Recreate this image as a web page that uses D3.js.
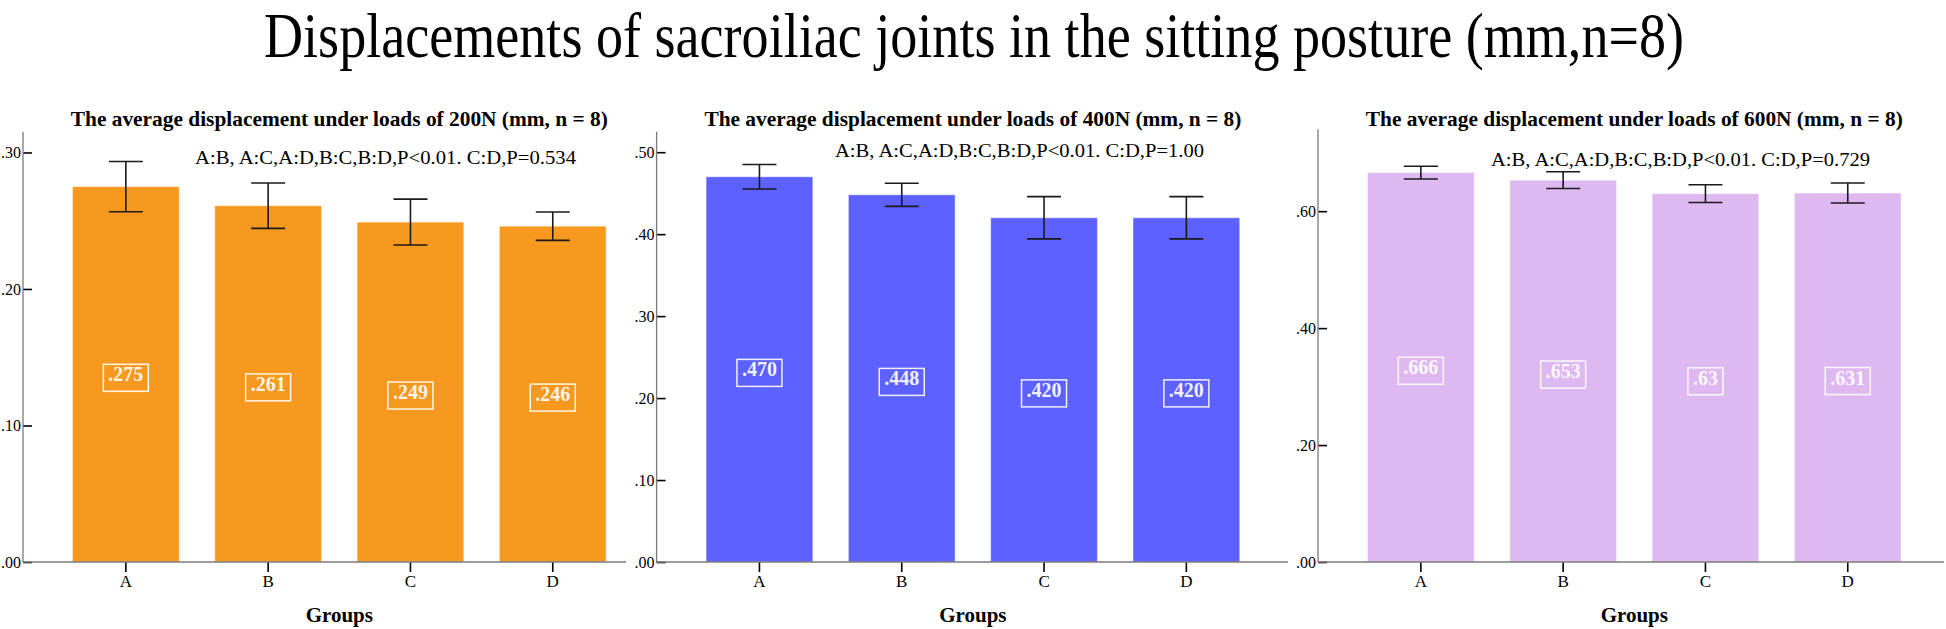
<!DOCTYPE html>
<html>
<head>
<meta charset="utf-8">
<script src="https://cdn.jsdelivr.net/npm/d3@7"></script>
<style>
  html, body { margin: 0; padding: 0; background: #ffffff; }
  svg { display: block; }
</style>
</head>
<body>
<svg id="chart" width="1946" height="629"></svg>
<script>
// ---------------- DATA ----------------
const mainTitle = "Displacements of sacroiliac joints in the sitting posture (mm,n=8)";
const categories = ["A", "B", "C", "D"];
const xAxisTitle = "Groups";

const subtitles = [
  "The average displacement under loads of 200N (mm, n = 8)",
  "The average displacement under loads of 400N (mm, n = 8)",
  "The average displacement under loads of 600N (mm, n = 8)"
];
const annotations = [
  "A:B, A:C,A:D,B:C,B:D,P<0.01. C:D,P=0.534",
  "A:B, A:C,A:D,B:C,B:D,P<0.01. C:D,P=1.00",
  "A:B, A:C,A:D,B:C,B:D,P<0.01. C:D,P=0.729"
];

const means200 = [0.275, 0.261, 0.249, 0.246];
const errors200 = [0.0184, 0.0166, 0.0168, 0.0104];
const labels200 = [".275", ".261", ".249", ".246"];
const ticks200 = [0, 0.10, 0.20, 0.30];

const means400 = [0.470, 0.448, 0.420, 0.420];
const errors400 = [0.0149, 0.0141, 0.0258, 0.0258];
const labels400 = [".470", ".448", ".420", ".420"];
const ticks400 = [0, 0.10, 0.20, 0.30, 0.40, 0.50];

const means600 = [0.666, 0.653, 0.630, 0.631];
const errors600 = [0.0109, 0.0143, 0.0151, 0.0171];
const labels600 = [".666", ".653", ".63", ".631"];
const ticks600 = [0, 0.20, 0.40, 0.60];

// ---------------- LAYOUT / STYLE ----------------
const panels = [
  { means: means200, errors: errors200, labels: labels200, ticks: ticks200, yMax: 0.315,
    axisX: 23, axisEnd: 626, yTop: 132, color: "#F7991F", annX: 195, annY: 163.5, annLen: 381 },
  { means: means400, errors: errors400, labels: labels400, ticks: ticks400, yMax: 0.525,
    axisX: 656.6, axisEnd: 1288, yTop: 131.7, color: "#5C61FF", annX: 835, annY: 157, annLen: 369 },
  { means: means600, errors: errors600, labels: labels600, ticks: ticks600, yMax: 0.74,
    axisX: 1318, axisEnd: 1944, yTop: 129.3, color: "#DEB8F1", annX: 1491, annY: 165.5, annLen: 379 }
];
panels.forEach((p, i) => { p.subtitle = subtitles[i]; p.annotation = annotations[i]; });

const baseY = 562;
const step = 142.3;
const serif = "'Liberation Serif', 'Times New Roman', Times, serif";
const tickFmt = v => d3.format(".2f")(v).replace(/^0\./, ".");

const svg = d3.select("#chart");

// Main title
svg.append("text")
  .attr("x", 264).attr("y", 57)
  .attr("textLength", 1420).attr("lengthAdjust", "spacingAndGlyphs")
  .style("font-family", serif).style("font-size", "64px").attr("fill", "#000")
  .text(mainTitle);

panels.forEach(p => {
  const g = svg.append("g");
  const bandStart = p.axisX + 31.7;
  const x = d3.scaleBand().domain(categories)
    .range([bandStart, bandStart + 4 * step])
    .paddingInner(0.25).paddingOuter(0.125);
  const y = d3.scaleLinear().domain([0, p.yMax]).range([baseY, p.yTop]);
  const cx = bandStart + 2 * step;

  // subtitle
  g.append("text")
    .attr("x", cx).attr("y", 126).attr("text-anchor", "middle")
    .attr("textLength", 537).attr("lengthAdjust", "spacingAndGlyphs")
    .style("font-family", serif).style("font-size", "21px").style("font-weight", "bold")
    .text(p.subtitle);

  // bars
  const data = categories.map((c, i) => ({ c, v: p.means[i], e: p.errors[i], lab: p.labels[i] }));
  g.selectAll("rect.bar").data(data).join("rect")
    .attr("class", "bar")
    .attr("x", d => x(d.c)).attr("width", x.bandwidth())
    .attr("y", d => y(d.v)).attr("height", d => y(0) - y(d.v))
    .attr("fill", p.color)
    .attr("stroke", "rgba(255,255,255,0.45)").attr("stroke-width", 1);

  // y axis
  const yAxis = d3.axisLeft(y).tickValues(p.ticks).tickFormat(tickFmt)
    .tickSizeInner(-9).tickSizeOuter(0).tickPadding(2);
  const ya = g.append("g").attr("transform", `translate(${p.axisX},0)`).call(yAxis);
  ya.select(".domain").remove();
  ya.selectAll(".tick line").attr("stroke", "#000").attr("stroke-width", 1.6);
  ya.selectAll(".tick text").style("font-family", serif).style("font-size", "16px").attr("fill", "#000");
  g.append("line")
    .attr("x1", p.axisX).attr("x2", p.axisX)
    .attr("y1", y(p.yMax)).attr("y2", baseY)
    .attr("stroke", "#7a7a7a").attr("stroke-width", 1.3);

  // x axis
  const xAxis = d3.axisBottom(x).tickSizeInner(10).tickSizeOuter(0).tickPadding(3);
  const xa = g.append("g").attr("transform", `translate(0,${baseY})`).call(xAxis);
  xa.select(".domain").remove();
  xa.selectAll(".tick line").attr("stroke", "#000").attr("stroke-width", 1.6);
  xa.selectAll(".tick text").style("font-family", serif).style("font-size", "17px").attr("fill", "#000");
  g.append("line")
    .attr("x1", p.axisX).attr("x2", p.axisEnd)
    .attr("y1", baseY).attr("y2", baseY)
    .attr("stroke", "#7a7a7a").attr("stroke-width", 1.6);

  // x axis title
  g.append("text")
    .attr("x", cx).attr("y", 622).attr("text-anchor", "middle")
    .style("font-family", serif).style("font-size", "21px").style("font-weight", "bold")
    .text(xAxisTitle);

  // error bars
  const capW = 34;
  const eb = g.selectAll("g.err").data(data).join("g").attr("class", "err")
    .attr("stroke", "#1a1a1a").attr("stroke-width", 1.6);
  eb.append("line")
    .attr("x1", d => x(d.c) + x.bandwidth() / 2).attr("x2", d => x(d.c) + x.bandwidth() / 2)
    .attr("y1", d => y(d.v + d.e)).attr("y2", d => y(d.v - d.e));
  eb.append("line")
    .attr("x1", d => x(d.c) + x.bandwidth() / 2 - capW / 2).attr("x2", d => x(d.c) + x.bandwidth() / 2 + capW / 2)
    .attr("y1", d => y(d.v + d.e)).attr("y2", d => y(d.v + d.e));
  eb.append("line")
    .attr("x1", d => x(d.c) + x.bandwidth() / 2 - capW / 2).attr("x2", d => x(d.c) + x.bandwidth() / 2 + capW / 2)
    .attr("y1", d => y(d.v - d.e)).attr("y2", d => y(d.v - d.e));

  // value labels with boxes
  const lg = g.selectAll("g.vlab").data(data).join("g").attr("class", "vlab");
  lg.append("text")
    .attr("x", d => x(d.c) + x.bandwidth() / 2)
    .attr("y", d => (y(d.v) + y(0)) / 2)
    .attr("text-anchor", "middle").attr("dominant-baseline", "central")
    .style("font-family", serif).style("font-size", "20px").style("font-weight", "bold")
    .attr("fill", "rgba(255,255,255,0.93)")
    .text(d => d.lab);
  lg.each(function () {
    const t = d3.select(this).select("text");
    const bb = t.node().getBBox();
    d3.select(this).insert("rect", "text")
      .attr("x", bb.x - 5).attr("y", bb.y + 1)
      .attr("width", bb.width + 10).attr("height", bb.height + 5)
      .attr("fill", "none").attr("stroke", "rgba(255,255,255,0.9)").attr("stroke-width", 1.5);
  });

  // annotation
  g.append("text")
    .attr("x", p.annX).attr("y", p.annY)
    .attr("textLength", p.annLen).attr("lengthAdjust", "spacingAndGlyphs")
    .style("font-family", serif).style("font-size", "18px").attr("fill", "#000")
    .text(p.annotation);
});
</script>
</body>
</html>
